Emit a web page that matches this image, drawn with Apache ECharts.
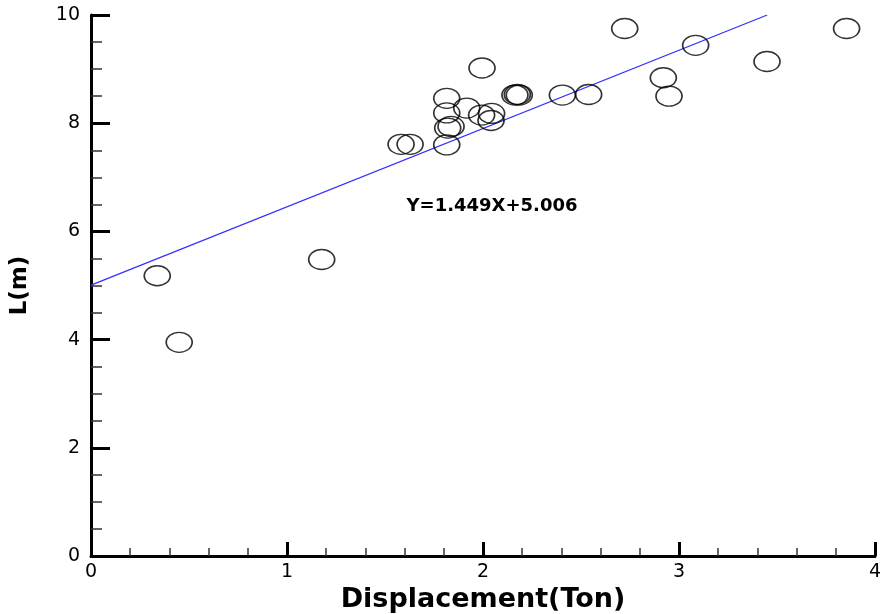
<!DOCTYPE html>
<html>
<head>
<meta charset="utf-8">
<script src="https://cdn.jsdelivr.net/npm/echarts@6/dist/echarts.min.js"></script>
<style>
html,body{margin:0;padding:0;background:#fff;}
#chart{width:885px;height:614px;}
</style>
</head>
<body>
<div id="chart"></div>
<script>
// Measured points (Displacement in Ton, L in m)
const displacement = [0.338, 0.450, 1.177, 1.582, 1.628, 1.815, 1.837, 1.820, 1.815, 1.815, 1.917, 1.995, 1.993, 2.044, 2.041, 2.163, 2.175, 2.185, 2.405, 2.539, 2.723, 2.920, 2.949, 3.085, 3.449, 3.855];
const lengthM      = [5.18, 3.95, 5.48, 7.61, 7.61, 7.60, 7.94, 7.91, 8.19, 8.46, 8.28, 9.02, 8.15, 8.18, 8.05, 8.52, 8.53, 8.52, 8.52, 8.53, 9.75, 8.84, 8.50, 9.44, 9.14, 9.75];
// Fitted line endpoints as drawn
const fitX = [0, 3.45];
const fitY = [5.006, 10.0];
const fitLabel = 'Y=1.449X+5.006';
const fitLabelPos = [2.046, 6.47];
const xTicks = [0, 1, 2, 3, 4];
const yTicks = [0, 2, 4, 6, 8, 10];

const chart = echarts.init(document.getElementById('chart'));
chart.setOption({
  backgroundColor: '#ffffff',
  animation: false,
  grid: {left: 91, right: 10, top: 15, bottom: 58, containLabel: false, outerBoundsMode: 'none'},
  xAxis: {
    type: 'value', min: xTicks[0], max: xTicks[xTicks.length-1], interval: 1,
    name: 'Displacement(Ton)', nameLocation: 'middle', nameGap: 22,
    nameTextStyle: {fontFamily: 'DejaVu Sans', fontWeight: 'bold', fontSize: 27, color: '#000'},
    axisLine: {show: true, onZero: false, lineStyle: {color: '#000', width: 3}},
    axisTick: {show: true, inside: true, length: 14, lineStyle: {color: '#000', width: 3}},
    minorTick: {show: true, splitNumber: 5, length: 8, lineStyle: {color: '#333', width: 1.5}},
    axisLabel: {fontFamily: 'DejaVu Sans', fontSize: 19, color: '#000', margin: 7},
    splitLine: {show: false}
  },
  yAxis: {
    type: 'value', min: yTicks[0], max: yTicks[yTicks.length-1], interval: 2,
    name: 'L(m)', nameLocation: 'middle', nameGap: 59,
    nameTextStyle: {fontFamily: 'DejaVu Sans', fontWeight: 'bold', fontSize: 23, color: '#000'},
    axisLine: {show: true, onZero: false, lineStyle: {color: '#000', width: 3}},
    axisTick: {show: true, inside: true, length: 19, lineStyle: {color: '#000', width: 3}},
    minorTick: {show: true, splitNumber: 4, length: 11, lineStyle: {color: '#333', width: 1.5}},
    axisLabel: {fontFamily: 'DejaVu Sans', fontSize: 19, color: '#000', margin: 11},
    splitLine: {show: false}
  },
  series: [
    {
      type: 'line',
      data: fitX.map((x, i) => [x, fitY[i]]),
      showSymbol: false, symbol: 'none',
      lineStyle: {color: '#2f2fff', width: 1.2},
      markPoint: {
        silent: true,
        symbol: 'circle', symbolSize: 0,
        data: [{coord: fitLabelPos, value: fitLabel}],
        label: {show: true, position: 'inside', formatter: fitLabel,
          fontFamily: 'DejaVu Sans', fontWeight: 'bold', fontSize: 18, color: '#000000', opacity: 1}
      },
      z: 2
    },
    {
      type: 'scatter',
      data: displacement.map((x, i) => [x, lengthM[i]]),
      symbol: 'circle', symbolSize: [26, 20],
      itemStyle: {color: 'rgba(0,0,0,0)', borderColor: '#000', borderWidth: 1.5},
      z: 3
    }
  ]
});
</script>
</body>
</html>
